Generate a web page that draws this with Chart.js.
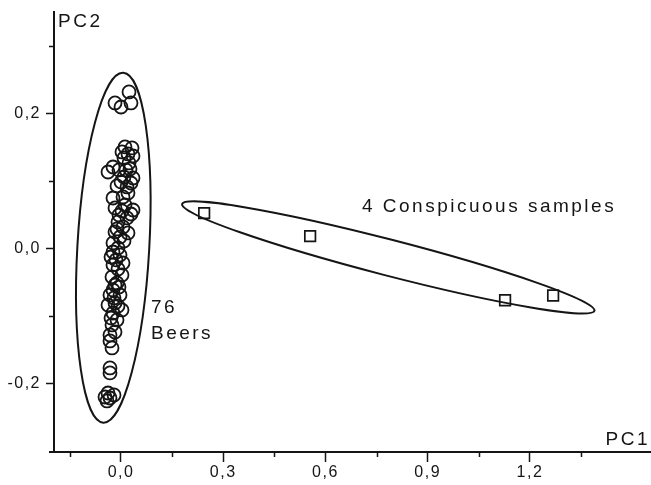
<!DOCTYPE html>
<html lang="en">
  <head>
    <meta charset="UTF-8" />
    <title>PCA scores - beers</title>
    <style>
      body {
        margin: 0;
        background: #fff;
        overflow: hidden;
      }
      #wrap {
        width: 651px;
        height: 485px;
      }
    </style>
    <script src="https://cdn.jsdelivr.net/npm/chart.js"></script>
  </head>
  <body>
    <div id="wrap"><canvas id="graph"></canvas></div>

    <script>
      // scores of the 76 beers (circles)
      const beerPC1 = [
        -0.0176, 0.0, 0.0235, 0.0293, 0.0117, 0.0323, 0.0029, 0.0352, 0.0088, 0.0235,
        -0.0235, -0.0381, -0.0059, 0.0264, 0.0088, 0.0352, -0.0117, 0.0176, 0.0293, -0.0235,
        0.0059, 0.0205, 0.0352, 0.0029, -0.0176, 0.0176, -0.0088, 0.0293, 0.0059, -0.0176,
        0.0205, -0.0029, -0.0235, -0.0088, 0.0088, -0.0235, -0.0293, -0.0029, 0.0059, -0.0235,
        -0.0088, 0.0029, -0.0264, -0.0117, -0.0235, -0.0323, -0.0029, -0.0176, -0.0381, 0.0029,
        -0.0235, -0.0117, -0.0264, -0.0176, -0.0323, -0.0323, -0.0264, -0.0323, -0.0323, -0.0381,
        -0.0469, -0.0323, -0.0411, -0.0205, 0.0205, 0.0147, 0.0, 0.0117, -0.0059, -0.0117,
        -0.0147, -0.0059, -0.0205, -0.0088, -0.0293, -0.0176,
      ];
      const beerPC2 = [
        0.2153, 0.2093, 0.2316, 0.2153, 0.1501, 0.1486, 0.1427, 0.1367, 0.1338, 0.1264,
        0.1204, 0.113, 0.116, 0.1175, 0.1056, 0.1041, 0.0923, 0.0908, 0.0967, 0.0745,
        0.076, 0.0819, 0.0567, 0.0553, 0.0597, 0.0449, 0.039, 0.0508, 0.0316, 0.0241,
        0.0227, 0.0167, 0.0079, 0.0004, 0.0108, -0.0055, -0.0129, -0.0099, -0.0218, -0.0247,
        -0.0307, -0.0396, -0.0425, -0.0514, -0.0618, -0.0692, -0.0692, -0.081, -0.084, -0.0914,
        -0.0959, -0.1062, -0.1136, -0.124, -0.1284, -0.1373, -0.1477, -0.1773, -0.1847, -0.2144,
        -0.2203, -0.2218, -0.2262, -0.2173, 0.1397, 0.116, 0.0982, 0.0641, 0.0493, 0.0286,
        -0.0173, -0.0573, -0.0736, -0.0855, -0.1033, -0.0544,
      ];

      // the 4 conspicuous samples (squares)
      const oddPC1 = [0.244, 0.555, 1.127, 1.268];
      const oddPC2 = [0.052, 0.018, -0.077, -0.07];

      // axis ticks
      const xMajorTicks = [0, 0.3, 0.6, 0.9, 1.2];
      const xMinorTicks = [-0.15, 0.15, 0.45, 0.75, 1.05, 1.35];
      const yMajorTicks = [-0.2, 0, 0.2];
      const yMinorTicks = [-0.1, 0.1, 0.3];

      // group outlines: centre, end of long axis, end of short axis (data units)
      const groupEllipses = [
        { center: [-0.0226, 0.0009], tip: [0.0067, 0.2601], side: [0.0827, -0.0021] },
        { center: [0.7843, -0.0136], tip: [1.3894, -0.0926], side: [0.7711, -0.0394] },
      ];

      const fontFamily = '"Liberation Sans", Arial, sans-serif';
      const textFont = "19px " + fontFamily;
      const ink = "#151515";

      const commaLabel = (v) => v.toFixed(1).replace(".", ",");

      const extras = {
        id: "extras",
        beforeDraw(chart) {
          // the original lettering is a bit spread out
          chart.ctx.letterSpacing = "1.5px";
        },
        beforeDatasetsDraw(chart) {
          const { ctx, scales } = chart;
          const x = scales.x;
          const y = scales.y;
          ctx.save();
          ctx.strokeStyle = ink;
          ctx.lineWidth = 2;
          groupEllipses.forEach((e) => {
            const cx = x.getPixelForValue(e.center[0]);
            const cy = y.getPixelForValue(e.center[1]);
            const tx = x.getPixelForValue(e.tip[0]) - cx;
            const ty = y.getPixelForValue(e.tip[1]) - cy;
            const sx = x.getPixelForValue(e.side[0]) - cx;
            const sy = y.getPixelForValue(e.side[1]) - cy;
            ctx.beginPath();
            ctx.ellipse(cx, cy, Math.hypot(tx, ty), Math.hypot(sx, sy), Math.atan2(ty, tx), 0, Math.PI * 2);
            ctx.stroke();
          });
          ctx.restore();
        },
        afterDraw(chart) {
          const { ctx, scales, chartArea } = chart;
          const x = scales.x;
          const y = scales.y;
          ctx.save();
          ctx.strokeStyle = ink;
          ctx.lineWidth = 1.5;

          // minor ticks (shorter than the labelled ones)
          ctx.beginPath();
          xMinorTicks.forEach((v) => {
            const px = Math.round(x.getPixelForValue(v)) + 0.5;
            ctx.moveTo(px, chartArea.bottom);
            ctx.lineTo(px, chartArea.bottom + 5);
          });
          yMinorTicks.forEach((v) => {
            const py = Math.round(y.getPixelForValue(v)) + 0.5;
            ctx.moveTo(chartArea.left, py);
            ctx.lineTo(chartArea.left - 5, py);
          });
          ctx.stroke();

          // x axis runs a little past the y axis
          ctx.lineWidth = 2;
          ctx.beginPath();
          ctx.moveTo(chartArea.left - 5, chartArea.bottom);
          ctx.lineTo(chartArea.left, chartArea.bottom);
          ctx.stroke();

          // labels
          ctx.fillStyle = ink;
          ctx.font = textFont;
          ctx.letterSpacing = "2.5px";
          ctx.textBaseline = "middle";
          ctx.textAlign = "left";
          ctx.fillText("PC2", chartArea.left + 4, chartArea.top + 10);
          ctx.fillText("4 Conspicuous samples", x.getPixelForValue(0.707), y.getPixelForValue(0.061));
          ctx.fillText("76", x.getPixelForValue(0.088), y.getPixelForValue(-0.088));
          ctx.fillText("Beers", x.getPixelForValue(0.088), y.getPixelForValue(-0.127));
          ctx.textAlign = "right";
          ctx.fillText("PC1", chartArea.right - 1, chartArea.bottom - 12);
          ctx.restore();
        },
      };

      const chart = new Chart(document.getElementById("graph"), {
        type: "scatter",
        data: {
          datasets: [
            {
              label: "76 Beers",
              data: beerPC1.map((v, i) => ({ x: v, y: beerPC2[i] })),
              pointStyle: "circle",
              pointRadius: 6.5,
              pointBorderWidth: 1.8,
              borderColor: ink,
              backgroundColor: "rgba(0,0,0,0)",
            },
            {
              label: "4 Conspicuous samples",
              data: oddPC1.map((v, i) => ({ x: v, y: oddPC2[i] })),
              pointStyle: "rect",
              pointRadius: 7.5,
              pointBorderWidth: 1.7,
              borderColor: ink,
              backgroundColor: "rgba(0,0,0,0)",
            },
          ],
        },
        options: {
          responsive: true,
          maintainAspectRatio: false,
          animation: false,
          layout: {
            autoPadding: false, // points must not push the plot area in
            padding: { top: 12, right: 0, left: 0, bottom: 0 },
          },
          plugins: {
            legend: { display: false },
            tooltip: { enabled: false },
          },
          scales: {
            x: {
              type: "linear",
              min: -0.1966,
              max: 1.5552,
              afterBuildTicks: (axis) => {
                axis.ticks = xMajorTicks.map((v) => ({ value: v }));
              },
              afterFit: (axis) => {
                axis.height = 33;
                axis.paddingLeft = 0;
                axis.paddingRight = 0;
              },
              border: { display: true, color: ink, width: 2 },
              grid: {
                drawOnChartArea: false,
                drawTicks: true,
                tickLength: 10,
                tickColor: ink,
                tickWidth: 1.5,
              },
              ticks: {
                padding: 1,
                maxRotation: 0,
                autoSkip: false,
                color: ink,
                font: { family: fontFamily, size: 16 },
                callback: (v) => commaLabel(v),
              },
            },
            y: {
              type: "linear",
              min: -0.3018,
              max: 0.35,
              afterBuildTicks: (axis) => {
                axis.ticks = yMajorTicks.map((v) => ({ value: v }));
              },
              afterFit: (axis) => {
                axis.width = 54;
                axis.paddingTop = 0;
                axis.paddingBottom = 0;
              },
              border: { display: true, color: ink, width: 2 },
              grid: {
                drawOnChartArea: false,
                drawTicks: true,
                tickLength: 8,
                tickColor: ink,
                tickWidth: 1.5,
              },
              ticks: {
                padding: 5,
                autoSkip: false,
                color: ink,
                font: { family: fontFamily, size: 16 },
                callback: (v) => commaLabel(v),
              },
            },
          },
        },
        plugins: [extras],
      });
    </script>
  </body>
</html>
